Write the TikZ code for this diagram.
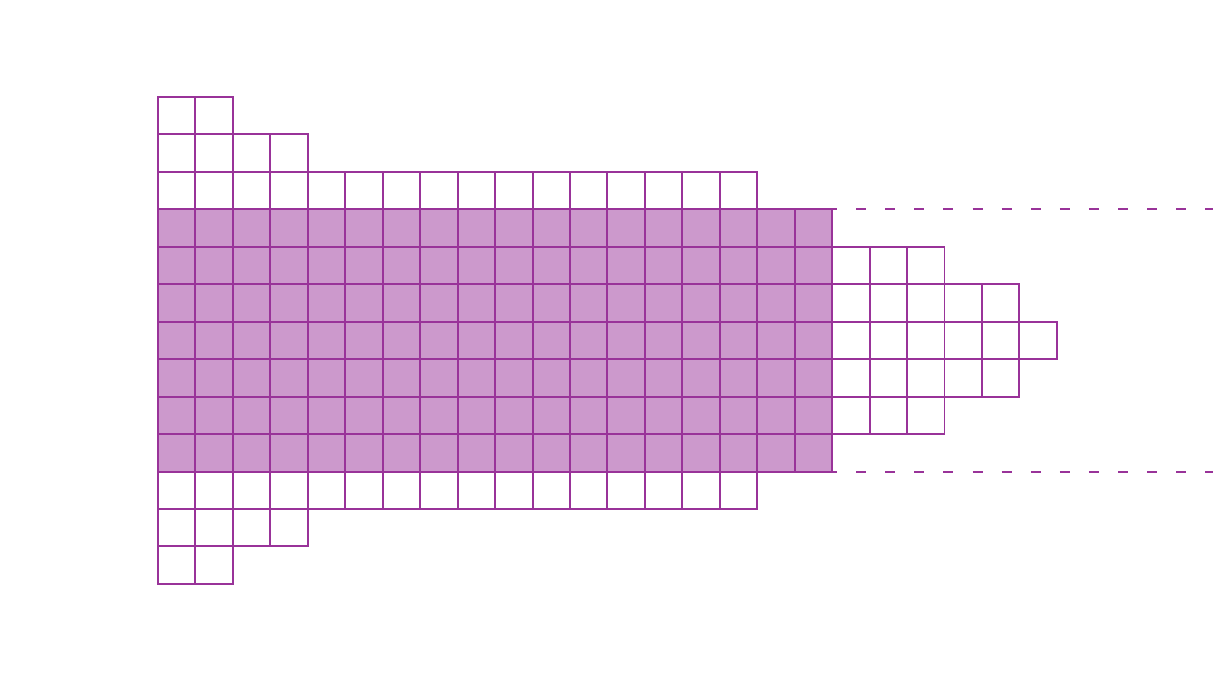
\documentclass[tikz,border=0pt]{standalone}
\usepackage{tikz}
\usetikzlibrary{calc,positioning}
\definecolor{grape}{HTML}{993399}
\definecolor{lilac}{HTML}{CC99CC}

\begin{document}
\begin{tikzpicture}[x=1cm,y=-1cm,cell/.style={draw=grape,line width=1.5pt},shaded/.style={cell,fill=lilac},guide/.style={draw=grape,line width=1.5pt,dash pattern=on 7.6pt off 14.5pt,dash phase=3.8pt}]
      \useasboundingbox (-4.219,-2.59) rectangle (28.17,15.62);

      % white rows above and below
      \foreach \r/\n in {0/2,1/4,2/16,10/16,11/4,12/2}
        \foreach \c in {1,...,\n}
          \draw[cell] (\c-1,\r) rectangle (\c,\r+1);

      % shaded block
      \foreach \r in {3,...,9}
        \foreach \c in {1,...,18}
          \draw[shaded] (\c-1,\r) rectangle (\c,\r+1);

      % white cells to the right
      \foreach \r/\n in {4/3,5/5,6/6,7/5,8/3}
        \foreach \c in {1,...,\n}
          \draw[cell] (17+\c,\r) rectangle (18+\c,\r+1);

      \coordinate (topL) at (18,3);
      \coordinate (topR) at (28.17,3);
      \coordinate (botL) at (18,10);
      \coordinate (botR) at (28.17,10);
      \draw[guide] (topL) -- (topR);
      \draw[guide] (botL) -- (botR);

\end{tikzpicture}
\end{document}
